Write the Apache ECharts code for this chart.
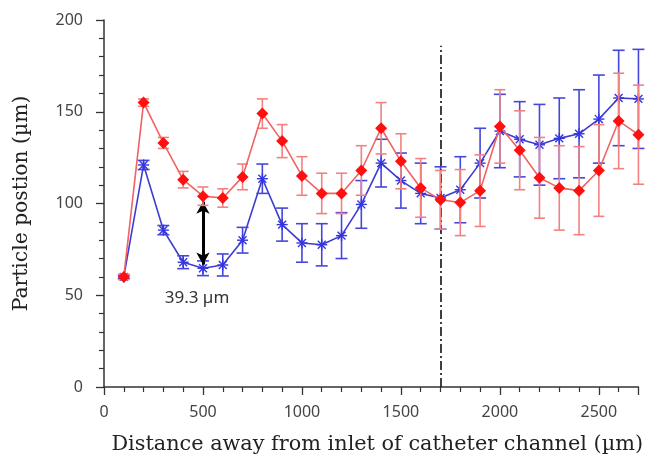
<!DOCTYPE html>
<html>
<head>
<meta charset="utf-8">
<script src="https://cdn.jsdelivr.net/npm/echarts@6/dist/echarts.min.js"></script>
<style>
  html, body { margin: 0; padding: 0; background: #fff; }
  #chart { width: 646px; height: 465px; }
</style>
</head>
<body>
<div id="chart"></div>
<script>
// Distance along the channel (µm)
const distances = [100, 200, 300, 400, 500, 600, 700, 800, 900, 1000, 1100, 1200, 1300, 1400,
  1500, 1600, 1700, 1800, 1900, 2000, 2100, 2200, 2300, 2400, 2500, 2600, 2700];

// Red series: mean particle position and error half-width (µm)
const redMean = [60, 155, 133, 113, 104, 103, 114.5, 149, 134, 115, 105.5, 105.5, 118, 141,
  123, 108.5, 102, 100.5, 107, 142, 129, 114, 108.5, 107, 118, 145, 137.5];
const redErr = [1.5, 2, 3, 4.5, 5, 5, 7, 8, 9, 10.5, 11, 11, 13.5, 14,
  15, 16, 16, 18, 19.5, 20, 21.5, 22, 23, 24, 25, 26, 27];

// Blue series: mean particle position and error half-width (µm)
const blueMean = [60, 121, 85.5, 68, 64.7, 66.5, 80, 113.5, 88.5, 78.5, 77.5, 82.5, 99.5, 122,
  112.5, 105.5, 103, 107.5, 122, 139.5, 135, 132, 135.5, 138, 146, 157.5, 157];
const blueErr = [1, 2.5, 2.5, 3.5, 4, 6, 7, 8, 9, 10.5, 11.5, 12.5, 13, 13,
  15, 16.5, 17, 18, 19, 20, 20.5, 22, 22, 24, 24, 26, 27];

// Reference marker: boundary position and the annotated gap
const boundaryX = 1700;
const boundaryTop = 186;
const gapX = 500;
const gapLabel = '39.3 µm';

const xTicks = [0, 500, 1000, 1500, 2000, 2500];
const yTicks = [0, 50, 100, 150, 200];

const gapIdx = distances.indexOf(gapX);

function pairs(xs, ys) { return xs.map((x, i) => [x, ys[i]]); }
function errRows(xs, m, e) { return xs.map((x, i) => [x, m[i] - e[i], m[i] + e[i]]); }

function errorBars(color, cap) {
  return function (params, api) {
    const x = api.value(0);
    const lo = api.coord([x, api.value(1)]);
    const hi = api.coord([x, api.value(2)]);
    const style = { stroke: color, lineWidth: 1.6 };
    return {
      type: 'group',
      children: [
        { type: 'line', shape: { x1: lo[0], y1: lo[1], x2: hi[0], y2: hi[1] }, style },
        { type: 'line', shape: { x1: hi[0] - cap, y1: hi[1], x2: hi[0] + cap, y2: hi[1] }, style },
        { type: 'line', shape: { x1: lo[0] - cap, y1: lo[1], x2: lo[0] + cap, y2: lo[1] }, style }
      ]
    };
  };
}

function asterisk(color, r) {
  return function (params, api) {
    const p = api.coord([api.value(0), api.value(1)]);
    const style = { stroke: color, lineWidth: 1.4 };
    const d = r * 0.72;
    return {
      type: 'group',
      children: [
        { type: 'line', shape: { x1: p[0] - r, y1: p[1], x2: p[0] + r, y2: p[1] }, style },
        { type: 'line', shape: { x1: p[0], y1: p[1] - r, x2: p[0], y2: p[1] + r }, style },
        { type: 'line', shape: { x1: p[0] - d, y1: p[1] - d, x2: p[0] + d, y2: p[1] + d }, style },
        { type: 'line', shape: { x1: p[0] - d, y1: p[1] + d, x2: p[0] + d, y2: p[1] - d }, style }
      ]
    };
  };
}

const chart = echarts.init(document.getElementById('chart'), null, { renderer: 'canvas' });

const tickFont = { fontFamily: 'Noto Sans', fontSize: 16, color: '#444' };

chart.setOption({
  animation: false,
  backgroundColor: '#fff',
  grid: { left: 104, top: 20, right: 7, bottom: 78, containLabel: false },
  xAxis: {
    type: 'value', min: 0, max: 2700, interval: 500,
    name: 'Distance away from inlet of catheter channel (µm)',
    nameLocation: 'middle', nameGap: 47,
    nameTextStyle: { fontFamily: 'DejaVu Serif', fontSize: 20.8, color: '#222', padding: [0, 0, 0, 12] },
    axisLine: { lineStyle: { color: '#333', width: 1.5 } },
    axisTick: { show: true, inside: false, length: 8, lineStyle: { color: '#333', width: 1.3 } },
    minorTick: { show: true, splitNumber: 5, length: 5, lineStyle: { color: '#333', width: 1.2 } },
    axisLabel: Object.assign({ margin: 17, formatter: v => xTicks.includes(v) ? String(v) : '' }, tickFont),
    splitLine: { show: false }
  },
  yAxis: {
    type: 'value', min: 0, max: 200, interval: 50,
    name: 'Particle postion (µm)',
    nameLocation: 'middle', nameGap: 72,
    nameTextStyle: { fontFamily: 'DejaVu Serif', fontSize: 20.3, color: '#222' },
    axisLine: { show: true, lineStyle: { color: '#333', width: 1.5 } },
    axisTick: { show: true, inside: false, length: 8, lineStyle: { color: '#333', width: 1.3 } },
    minorTick: { show: true, splitNumber: 5, length: 5, lineStyle: { color: '#333', width: 1.2 } },
    axisLabel: Object.assign({ margin: 21, formatter: v => yTicks.includes(v) ? String(v) : '' }, tickFont),
    splitLine: { show: false }
  },
  series: [
    {
      name: 'blue-line', type: 'line', z: 2,
      data: pairs(distances, blueMean),
      showSymbol: false, symbol: 'none',
      lineStyle: { color: '#3c3cd2', width: 1.6 },
      markLine: {
        silent: true, symbol: 'none', animation: false,
        lineStyle: { color: '#111', width: 1.6, type: [9, 3, 2, 3] },
        label: { show: false },
        data: [[{ coord: [boundaryX, 0] }, { coord: [boundaryX, boundaryTop] }]]
      }
    },
    {
      name: 'blue-err', type: 'custom', z: 3,
      data: errRows(distances, blueMean, blueErr),
      renderItem: errorBars('#4646dc', 6),
      encode: { x: 0, y: [1, 2] }, clip: false
    },
    {
      name: 'blue-mark', type: 'custom', z: 4,
      data: pairs(distances, blueMean),
      renderItem: asterisk('#3434e0', 5.5),
      encode: { x: 0, y: 1 }, clip: false
    },
    {
      name: 'red-err', type: 'custom', z: 5,
      data: errRows(distances, redMean, redErr),
      renderItem: errorBars('#f48080', 5.5),
      encode: { x: 0, y: [1, 2] }, clip: false
    },
    {
      name: 'red-line', type: 'line', z: 6,
      data: pairs(distances, redMean),
      symbol: 'diamond', symbolSize: 12, showSymbol: true, showAllSymbol: true,
      itemStyle: { color: '#ff1010' },
      lineStyle: { color: '#f26262', width: 1.6 },
      markLine: {
        silent: true, animation: false,
        symbol: ['arrow', 'arrow'], symbolSize: [10, 12],
        lineStyle: { color: '#000', width: 3, type: 'solid' },
        label: { show: false },
        data: [[{ coord: [gapX, redMean[gapIdx] - 3] }, { coord: [gapX, blueMean[gapIdx] + 2] }]]
      },
      markPoint: {
        silent: true, symbol: 'circle', symbolSize: 0,
        label: {
          show: true, formatter: gapLabel, position: 'inside',
          fontFamily: 'Noto Sans', fontSize: 17, color: '#333'
        },
        data: [{ coord: [gapX - 30, 48.5] }]
      }
    }
  ]
});
</script>
</body>
</html>
